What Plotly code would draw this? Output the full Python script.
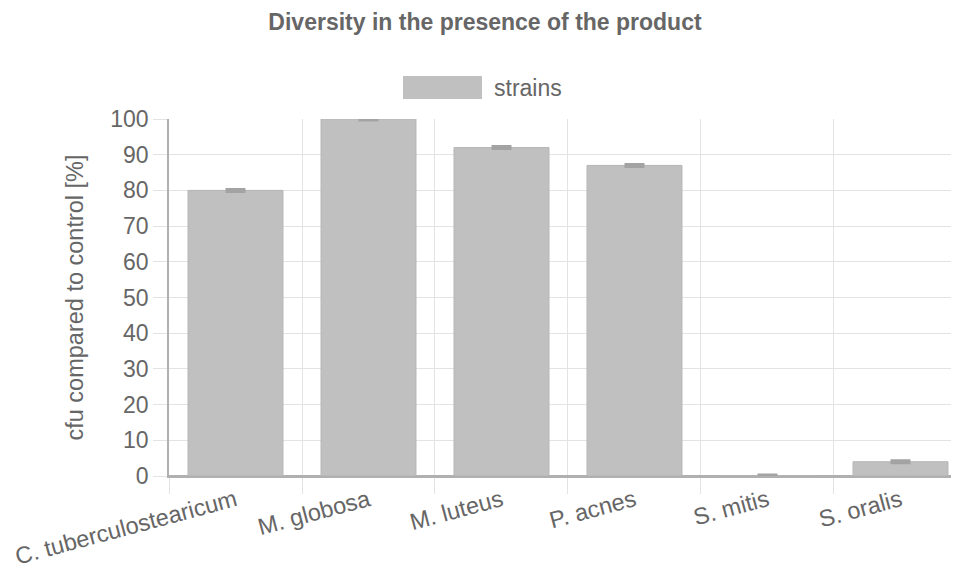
import plotly.graph_objects as go

categories = ["C. tuberculostearicum", "M. globosa", "M. luteus", "P. acnes", "S. mitis", "S. oralis"]
values = [80, 100, 92, 87, 0, 4]
errors = [0.35, 0.35, 0.35, 0.35, 0.35, 0.35]
y_ticks = [0, 10, 20, 30, 40, 50, 60, 70, 80, 90, 100]
series_name = "strains"

FONT = "Liberation Sans, Arial, sans-serif"
TXT = "#666666"
GRID = "#e3e3e3"

W, H = 951, 566
L, T, B = 161, 111, 98
PW, PH = W - L, H - T - B  # 790 x 357

fig = go.Figure()
fig.add_trace(go.Bar(
    x=categories, y=values, name=series_name,
    width=0.714,
    marker=dict(color="#c0c0c0", line=dict(color="#b5b5b5", width=1)),
    error_y=dict(type="data", array=errors, visible=True, color="#a3a3a3",
                 thickness=2.5, width=10),
    showlegend=False,
    cliponaxis=False,
))

fig.update_layout(
    width=W, height=H,
    margin=dict(l=L, r=0, t=T, b=B),
    paper_bgcolor="white", plot_bgcolor="white",
    font=dict(family=FONT, color=TXT, size=18),
    title=dict(text="<b>Diversity in the presence of the product</b>",
               x=477 / W, xanchor="center", y=1 - 14 / H, yanchor="middle",
               font=dict(size=23, color=TXT, family=FONT)),
)
fig.update_xaxes(
    type="category", range=[-0.5, 5.44],
    tickson="boundaries", ticks="outside", ticklen=16, tickcolor=GRID, tickwidth=1,
    showgrid=True, gridcolor=GRID, gridwidth=1,
    tickangle=-15, tickfont=dict(size=23.5, color=TXT, family=FONT),
    showline=True, linecolor="#b0b0b0", linewidth=1.5,
    zeroline=False,
)
fig.update_yaxes(
    range=[0, 100], tickvals=y_ticks,
    ticks="outside", ticklen=14, tickcolor=GRID,
    showgrid=True, gridcolor=GRID, gridwidth=1,
    tickfont=dict(size=23, color=TXT, family=FONT),
    showline=True, linecolor="#b0b0b0", linewidth=1.5,
    zeroline=True, zerolinecolor="#b0b0b0", zerolinewidth=1.5,
    title=dict(text="cfu compared to control [%]", font=dict(size=23.5, color=TXT, family=FONT), standoff=20),
)

# legend (drawn manually to match wide swatch)
fig.add_shape(type="rect", xref="paper", yref="paper",
              x0=(395 - L) / PW, x1=(474 - L) / PW,
              y0=(H - B - 91) / PH, y1=(H - B - 68) / PH,
              fillcolor="#c0c0c0", line=dict(width=0))
fig.add_annotation(text=series_name, xref="paper", yref="paper",
                   x=(484 - L) / PW, y=(H - B - 79.5) / PH,
                   xanchor="left", yanchor="middle", showarrow=False,
                   font=dict(size=23, color=TXT, family=FONT))

fig.write_html("out.html")
